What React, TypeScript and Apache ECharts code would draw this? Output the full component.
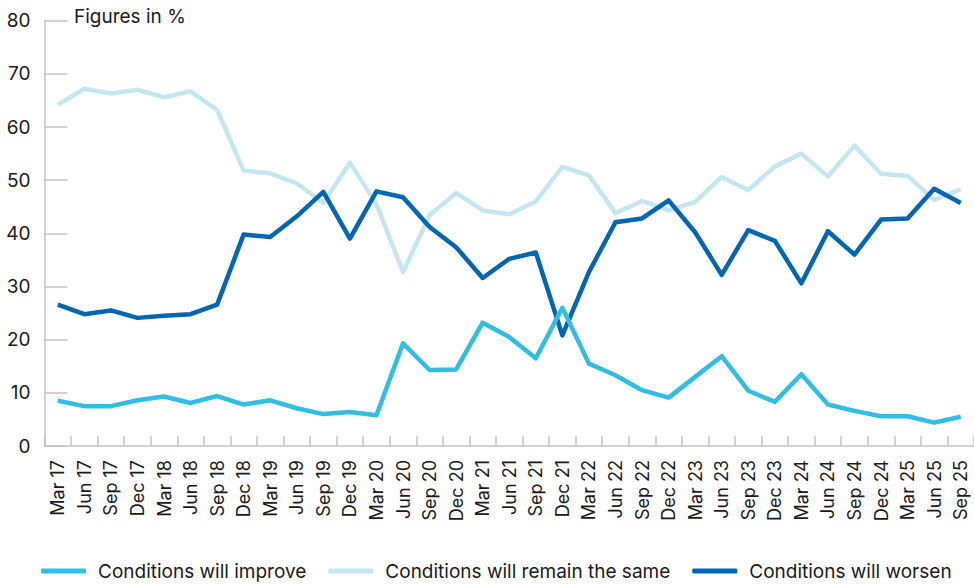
import React, { useEffect, useRef } from "react";
import * as echarts from "echarts";

const categories = [
  "Mar 17", "Jun 17", "Sep 17", "Dec 17",
  "Mar 18", "Jun 18", "Sep 18", "Dec 18",
  "Mar 19", "Jun 19", "Sep 19", "Dec 19",
  "Mar 20", "Jun 20", "Sep 20", "Dec 20",
  "Mar 21", "Jun 21", "Sep 21", "Dec 21",
  "Mar 22", "Jun 22", "Sep 22", "Dec 22",
  "Mar 23", "Jun 23", "Sep 23", "Dec 23",
  "Mar 24", "Jun 24", "Sep 24", "Dec 24",
  "Mar 25", "Jun 25", "Sep 25",
];

const improve = [
  8.5, 7.5, 7.5, 8.6, 9.3, 8.1, 9.4, 7.8,
  8.6, 7.1, 6.0, 6.4, 5.8, 19.3, 14.3, 14.4,
  23.2, 20.5, 16.5, 26.0, 15.5, 13.3, 10.5, 9.1,
  13.0, 16.9, 10.4, 8.3, 13.5, 7.8, 6.6, 5.6,
  5.6, 4.4, 5.5,
];

const remain = [
  64.2, 67.2, 66.3, 67.0, 65.6, 66.7, 63.2, 51.8,
  51.3, 49.4, 45.7, 53.3, 45.5, 32.7, 43.4, 47.6,
  44.3, 43.6, 46.0, 52.5, 50.9, 43.8, 46.1, 44.3,
  45.9, 50.6, 48.1, 52.6, 55.0, 50.7, 56.5, 51.2,
  50.8, 46.3, 48.3,
];

const worsen = [
  26.6, 24.8, 25.5, 24.1, 24.5, 24.8, 26.6, 39.8,
  39.3, 43.2, 47.8, 39.0, 47.9, 46.8, 41.2, 37.4,
  31.6, 35.2, 36.4, 20.8, 32.7, 42.1, 42.8, 46.2,
  40.2, 32.2, 40.6, 38.6, 30.6, 40.4, 36.0, 42.6,
  42.8, 48.4, 45.7,
];

const seriesNames = [
  "Conditions will improve",
  "Conditions will remain the same",
  "Conditions will worsen",
];
const colors = ["#30BEE2", "#C4E6F1", "#0066B1"];

const FONT = "Inter";

export default function App() {
  const ref = useRef<HTMLDivElement>(null);

  useEffect(() => {
    if (!ref.current) return;
    const chart = echarts.init(ref.current, null, { renderer: "svg" });
    const data = [improve, remain, worsen];
    chart.setOption({
      animation: false,
      backgroundColor: "#ffffff",
      textStyle: { fontFamily: FONT },
      grid: { left: 44.5, right: 0, top: 20.7, bottom: 138, containLabel: false },
      legend: {
        left: 41,
        top: 560,
        padding: 0,
        itemWidth: 45,
        itemHeight: 5,
        itemGap: 22,
        icon: "roundRect",
        textStyle: { fontSize: 19, lineHeight: 22, color: "#1a1a1a", fontFamily: FONT, padding: [0, 0, 0, 7] },
        data: seriesNames,
      },
      graphic: [
        {
          type: "text",
          left: 74,
          top: 7,
          style: { text: "Figures in %", fontSize: 19, fill: "#1a1a1a", fontFamily: FONT },
        },
      ],
      xAxis: {
        type: "category",
        data: categories,
        boundaryGap: true,
        axisLine: { lineStyle: { color: "#c4c4c4", width: 1.5 } },
        axisTick: { show: true, inside: true, length: 10, lineStyle: { color: "#c4c4c4", width: 1.5 } },
        axisLabel: { rotate: 90, fontSize: 18, color: "#1a1a1a", margin: 14, fontFamily: FONT, interval: 0 },
        splitLine: { show: false },
      },
      yAxis: {
        type: "value",
        min: 0,
        max: 80,
        interval: 10,
        axisLine: { show: true, lineStyle: { color: "#c4c4c4", width: 1.5 } },
        axisTick: { show: true, inside: true, length: 23, lineStyle: { color: "#c4c4c4", width: 1.5 } },
        axisLabel: { fontSize: 19, color: "#1a1a1a", margin: 14, fontFamily: FONT },
        splitLine: { show: false },
      },
      series: seriesNames.map((name, i) => ({
        name,
        type: "line",
        data: data[i],
        showSymbol: false,
        symbol: "none",
        lineStyle: { color: colors[i], width: 4.5, join: "round" },
        itemStyle: { color: colors[i] },
        z: i === 0 ? 4 : i === 2 ? 3 : 2,
      })),
    });
    return () => chart.dispose();
  }, []);

  return (
    <div
      ref={ref}
      style={{ position: "fixed", left: 0, top: 0, width: 974, height: 584 }}
    />
  );
}
